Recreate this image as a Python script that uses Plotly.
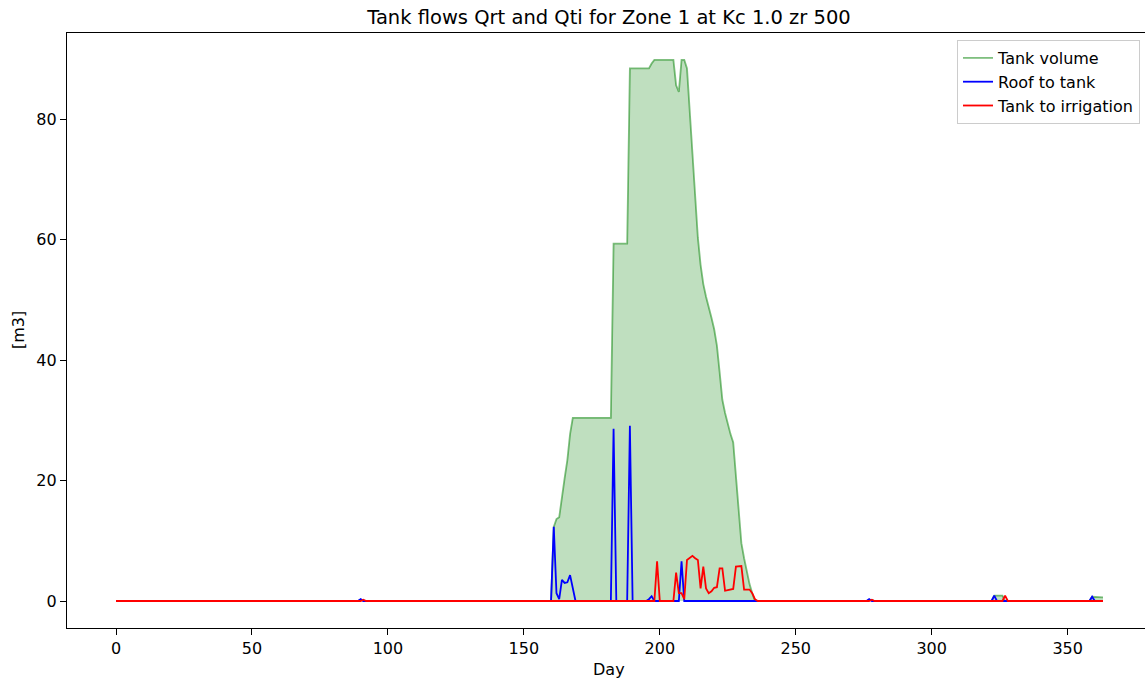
import plotly.graph_objects as go

# ---------------- data ----------------
n_days = 364
days = list(range(n_days))

# Tank volume [m3] on days where it is not zero
vol_days = [90,
            161, 162, 163, 164, 165, 166, 167, 168, 169, 170, 171, 172, 173, 174,
            175, 176, 177, 178, 179, 180, 181, 182,
            183, 184, 185, 186, 187, 188,
            189, 190, 191, 192, 193, 194, 195, 196, 197,
            198, 199, 200, 201, 202, 203, 204, 205, 206, 207, 208, 209, 210,
            211, 212, 213, 214, 215, 216, 217, 218, 219, 220, 221, 222, 223,
            224, 225, 226, 227, 228, 229, 230, 231, 232, 233, 234,
            277, 278,
            323, 324, 325, 326,
            359, 360, 361, 362, 363]
vol_vals = [0.2,
            12.3, 13.6, 13.9, 17.4, 20.4, 23.4, 27.7, 30.4, 30.4, 30.4, 30.4, 30.4, 30.4, 30.4,
            30.4, 30.4, 30.4, 30.4, 30.4, 30.4, 30.4, 30.4,
            59.3, 59.3, 59.3, 59.3, 59.3, 59.3,
            88.4, 88.4, 88.4, 88.4, 88.4, 88.4, 88.4, 88.4, 89.2,
            89.8, 89.8, 89.8, 89.8, 89.8, 89.8, 89.8, 89.8, 85.6, 84.5, 89.8, 89.8, 88.4,
            81.4, 74.3, 67.3, 60.3, 55.8, 52.6, 50.5, 48.9, 47.0, 45.1, 42.4, 38.0, 33.4,
            31.2, 29.3, 27.7, 26.3, 20.9, 15.3, 9.6, 7.1, 4.9, 2.8, 1.3,
            0.2, 0.2,
            0.9, 0.9, 0.9, 0.9,
            0.7, 0.7, 0.7, 0.7, 0.6]

# Roof to tank [m3]
roof_days = [90, 161, 162, 163, 164, 165, 166, 167, 168, 183, 189, 196, 197, 208, 277, 323, 359]
roof_vals = [0.3, 12.3, 1.3, 0.3, 3.5, 3.0, 3.1, 4.3, 2.4, 28.6, 29.1, 0.3, 0.8, 6.6, 0.3, 0.9, 0.7]

# Tank to irrigation [m3]
irr_days = [91, 199, 206, 207, 208, 209, 210, 211, 212, 213, 214, 215, 216, 217, 218,
            219, 220, 221, 222, 223, 224, 225, 226, 227, 228, 229, 230, 231, 232,
            233, 234, 235, 278, 327]
irr_vals = [0.2, 6.6, 4.7, 1.3, 1.3, 0.3, 6.8, 7.2, 7.5, 7.1, 6.8, 2.1, 5.7, 2.1, 1.3,
            1.6, 2.2, 2.3, 5.4, 5.4, 1.7, 1.8, 1.9, 2.0, 5.7, 5.75, 5.8, 1.9, 1.9,
            1.9, 1.3, 0.3, 0.2, 0.9]

x_ticks = [0, 50, 100, 150, 200, 250, 300, 350]
y_ticks = [0, 20, 40, 60, 80]


def series(ds, vs):
    out = [0.0] * n_days
    for d, v in zip(ds, vs):
        out[d] = v
    return out


tank_volume = series(vol_days, vol_vals)
roof_to_tank = series(roof_days, roof_vals)
tank_to_irr = series(irr_days, irr_vals)

# ---------------- figure ----------------
FONT = "DejaVu Sans"
W, H = 1145, 682
L, R, T, B = 67, 0, 33, 54

fig = go.Figure()
fig.add_trace(go.Scatter(x=days, y=tank_volume, mode="lines", fill="tozeroy",
                         fillcolor="rgba(0,128,0,0.25)", line=dict(width=0),
                         showlegend=False, hoverinfo="skip"))
fig.add_trace(go.Scatter(x=days, y=tank_volume, mode="lines", name="Tank volume",
                         line=dict(color="rgba(0,128,0,0.5)", width=1.8)))
fig.add_trace(go.Scatter(x=days, y=roof_to_tank, mode="lines", name="Roof to tank",
                         line=dict(color="#0000ff", width=1.8)))
fig.add_trace(go.Scatter(x=days, y=tank_to_irr, mode="lines", name="Tank to irrigation",
                         line=dict(color="#ff0000", width=1.8)))

px_per_day = 2.719
x0_px = 116
x_lo = (L - x0_px) / px_per_day
x_hi = (W - R - x0_px) / px_per_day
px_per_unit = 6.025
y0_px = 601
y_hi = (y0_px - T) / px_per_unit
y_lo = (y0_px - (H - B)) / px_per_unit

tickfont = dict(family=FONT, size=16, color="black")
fig.update_layout(
    width=W, height=H,
    margin=dict(l=L, r=R, t=T, b=B, pad=0),
    paper_bgcolor="white", plot_bgcolor="white",
    title=dict(text="Tank flows Qrt and Qti for Zone 1 at Kc 1.0 zr 500",
               font=dict(family=FONT, size=19.5, color="black"),
               x=609 / W, xref="container", xanchor="center",
               y=1 - 17 / H, yref="container", yanchor="middle"),
    xaxis=dict(range=[x_lo, x_hi], tickvals=x_ticks, ticks="outside", ticklen=6,
               tickwidth=1.2, tickcolor="black", showline=True, linecolor="black",
               linewidth=1.2, mirror=True, showgrid=False, zeroline=False,
               tickfont=tickfont),
    yaxis=dict(range=[y_lo, y_hi], tickvals=y_ticks, ticks="outside", ticklen=6,
               tickwidth=1.2, tickcolor="black", showline=True, linecolor="black",
               linewidth=1.2, mirror=False, showgrid=False, zeroline=False,
               tickfont=tickfont),
    legend=dict(x=(1140 - L) / (W - L - R), y=(H - B - 40) / (H - T - B),
                xanchor="right", yanchor="top",
                bgcolor="rgba(255,255,255,0.8)", bordercolor="#cccccc", borderwidth=1,
                font=dict(family=FONT, size=16, color="black")),
    annotations=[
        dict(text="Day", xref="paper", yref="paper",
             x=(609 - L) / (W - L - R), y=(H - B - 669) / (H - T - B),
             xanchor="center", yanchor="middle", showarrow=False,
             font=dict(family=FONT, size=16, color="black")),
        dict(text="[m3]", xref="paper", yref="paper",
             x=(18 - L) / (W - L - R), y=(H - B - 330) / (H - T - B),
             xanchor="center", yanchor="middle", showarrow=False, textangle=-90,
             font=dict(family=FONT, size=16, color="black")),
    ],
)

fig.write_html("out.html")
